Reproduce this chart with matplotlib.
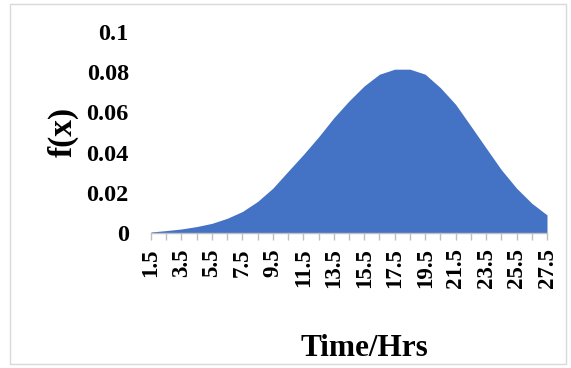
import matplotlib
matplotlib.use("Agg")
import matplotlib.pyplot as plt
from matplotlib.patches import Rectangle

# Data
hours = [1.5 + i for i in range(27)]
fx = [0.0005, 0.0012, 0.0020, 0.0032, 0.0048, 0.0073, 0.0107, 0.0157, 0.0223,
      0.0307, 0.0390, 0.0478, 0.0573, 0.0657, 0.0732, 0.0790, 0.0815, 0.0815,
      0.0790, 0.0723, 0.0640, 0.0532, 0.0423, 0.0315, 0.0223, 0.0148, 0.0090]
y_ticks = [0, 0.02, 0.04, 0.06, 0.08, 0.1]
y_tick_labels = ["0", "0.02", "0.04", "0.06", "0.08", "0.1"]
x_label = "Time/Hrs"
y_label = "f(x)"

plt.rcParams['font.family'] = ['Liberation Serif', 'DejaVu Serif']
plt.rcParams['font.weight'] = 'bold'

fig = plt.figure(figsize=(5.71, 3.68), dpi=100)
ax = fig.add_axes([151/571, 1 - 233/368, 396/571, 201/368])

idx = list(range(len(hours)))
ax.fill_between(idx, fx, 0, color='#4472C4', linewidth=0)

ax.set_xlim(0, len(hours) - 1)
ax.set_ylim(0, 0.1)

xlabels = [f"{h:g}" if i % 2 == 0 else "" for i, h in enumerate(hours)]
ax.set_xticks(idx)
ax.set_xticklabels(xlabels, rotation=90, fontsize=16.5, fontweight='bold')
ax.tick_params(axis='x', length=5, width=1, color='#BFBFBF', pad=6)

ax.set_yticks(y_ticks)
ax.set_yticklabels(y_tick_labels, fontsize=17.5, fontweight='bold')
ax.tick_params(axis='y', length=0, pad=16)

for s in ['top', 'right', 'left']:
    ax.spines[s].set_visible(False)
ax.spines['bottom'].set_color('#BFBFBF')
ax.spines['bottom'].set_linewidth(1)

fig.text(364/571, 1 - 348/368, x_label, ha='center', va='center',
         fontsize=22.5, fontweight='bold')
fig.text(63/571, 1 - 132/368, y_label, ha='center', va='center',
         rotation=90, fontsize=24, fontweight='bold')

fig.patches.append(Rectangle((10/571, 4/368), 556/571, 360/368,
                             transform=fig.transFigure, fill=False,
                             edgecolor='#D9D9D9', linewidth=1))

fig.savefig("out.png", dpi=100)
